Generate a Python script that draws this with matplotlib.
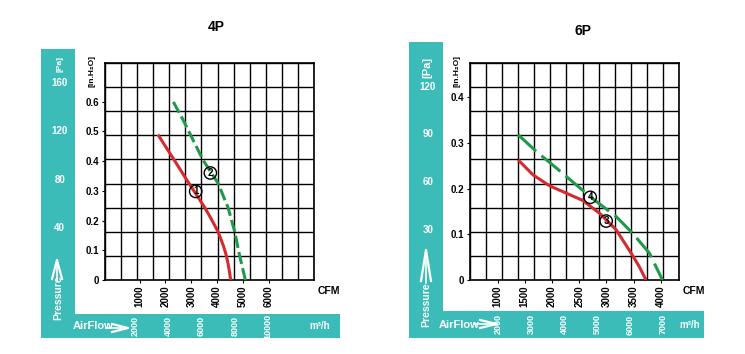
import numpy as np
import matplotlib
matplotlib.use("Agg")
import matplotlib.pyplot as plt

plt.rcParams['font.family'] = ['Liberation Sans', 'DejaVu Sans']
plt.rcParams['font.weight'] = 'bold'

W, H = 745, 354
TEAL = "#3bbcb9"
RED = "#d42a30"
GREEN = "#1f9a4a"

# ---- 4P data (CFM, inH2O)
p4_red_x = [1709, 2292, 2873, 3326, 3519, 3713, 3900, 4035, 4160, 4256, 4350, 4424, 4480, 4527]
p4_red_y = [0.489, 0.410, 0.330, 0.270, 0.244, 0.215, 0.185, 0.163, 0.135, 0.112, 0.085, 0.056, 0.028, 0.0]
p4_green_x = [2306, 2680, 3453, 4035, 4424, 4682, 4876, 5097]
p4_green_y = [0.599, 0.539, 0.404, 0.326, 0.244, 0.163, 0.081, 0.0]
p4_marks = [("1", 3171, 0.298), ("2", 3740, 0.360)]
p4_xticks = [1000, 2000, 3000, 4000, 5000, 6000]
p4_yticks = [0, 0.1, 0.2, 0.3, 0.4, 0.5, 0.6]
p4_pa = [40, 80, 120, 160]
p4_m3h = [2000, 4000, 6000, 8000, 10000]

# ---- 6P data
p6_red_x = [1377, 1652, 1958, 2264, 2568, 2874, 3179, 3454, 3606, 3729]
p6_red_y = [0.263, 0.230, 0.206, 0.190, 0.174, 0.146, 0.110, 0.059, 0.029, 0.0]
p6_green_x = [1377, 1714, 2081, 2447, 2813, 3179, 3484, 3789, 4003, 4033]
p6_green_y = [0.318, 0.281, 0.245, 0.208, 0.172, 0.139, 0.102, 0.059, 0.007, 0.0]
p6_marks = [("3", 2996, 0.129), ("4", 2703, 0.181)]
p6_xticks = [1000, 1500, 2000, 2500, 3000, 3500, 4000]
p6_yticks = [0, 0.1, 0.2, 0.3, 0.4]
p6_pa = [30, 60, 90, 120]
p6_m3h = [2000, 3000, 4000, 5000, 6000, 7000]


def box(x0, y0, x1, y1):
    return [x0 / W, 1 - y1 / H, (x1 - x0) / W, (y1 - y0) / H]


def fmt(v):
    return "0" if v == 0 else f"{v:g}"


def panel(fig, title, tx, ty, plot_px, xlim, ylim, vband_px, hband_px, palim, m3lim,
          rx, ry, gx, gy, marks, xticks, yticks, pa, m3h, dash, pa_lab, pres_y, air_x, unit_x):
    # teal bands: the vertical one stops where the bottom one starts
    hb = fig.add_axes(box(*hband_px))
    hb.set_facecolor(TEAL)
    hb.set_xlim(*m3lim)
    hb.set_xticks([]); hb.set_yticks([])
    for s in hb.spines.values():
        s.set_visible(False)
    vb = fig.add_axes(box(*vband_px))
    vb.set_facecolor(TEAL)
    vb.set_ylim(*palim)
    vb.set_xticks([]); vb.set_yticks([])
    for s in vb.spines.values():
        s.set_visible(False)

    for v in pa:
        vb.text(0.55, v, str(v), transform=vb.get_yaxis_transform(), color="white",
                fontsize=7, ha="center", va="center")
    vb.text(0.55, pa_lab[0], "[Pa]", transform=vb.get_yaxis_transform(), color="white",
            fontsize=pa_lab[1], rotation=90, ha="center", va="center")
    vb.text(0.5, pres_y, "Pressure", transform=vb.transAxes, color="white",
            fontsize=7.5, rotation=90, ha="center", va="center")
    for v in m3h:
        hb.text(v, 0.5, str(v), transform=hb.get_xaxis_transform(), color="white",
                fontsize=6.5, rotation=90, ha="center", va="center")
    hb.text(unit_x, 0.5, "m³/h", transform=hb.transAxes, color="white",
            fontsize=7, ha="right", va="center")
    hb.text(air_x, 0.5, "AirFlow", transform=hb.transAxes, color="white",
            fontsize=8, ha="left", va="center")

    # plot
    ax = fig.add_axes(box(*plot_px))
    ax.set_xlim(*xlim)
    ax.set_ylim(*ylim)
    ax.set_xticks(np.linspace(xlim[0], xlim[1], 14), minor=True)
    ax.set_yticks(np.linspace(ylim[0], ylim[1], 10), minor=True)
    ax.grid(which="minor", color="black", lw=1.0)
    ax.tick_params(which="minor", length=0)
    ax.set_xticks(xticks)
    ax.set_xticklabels([str(v) for v in xticks], rotation=90, fontsize=7)
    ax.set_yticks(yticks)
    ax.set_yticklabels([fmt(v) for v in yticks], fontsize=7)
    ax.tick_params(which="major", length=2, width=0.8, pad=2)
    for s in ax.spines.values():
        s.set_linewidth(1.2)
    ax.set_axisbelow(True)
    ax.plot(rx, ry, color=RED, lw=2.2, solid_capstyle="butt", zorder=3)
    ax.plot(gx, gy, color=GREEN, lw=2.2, dashes=dash, zorder=3)
    for lab, mx, my in marks:
        ax.text(mx, my, lab, fontsize=7, ha="center", va="center", zorder=4,
                bbox=dict(boxstyle="circle,pad=0.12", fc="none", ec="black", lw=1.0))
    ax.text(1.015, -0.05, "CFM", transform=ax.transAxes, fontsize=7.5, ha="left", va="center")
    ax.text(-0.06, 0.965, "[in.H₂O]", transform=ax.transAxes, fontsize=6,
            rotation=90, ha="center", va="center")
    fig.text(tx / W, 1 - ty / H, title, fontsize=10, ha="center", va="center")
    return vb, hb


fig = plt.figure(figsize=(W / 100, H / 100), dpi=100)
fig.patch.set_facecolor("white")

panel(fig, "4P", 216, 27, (105, 63, 314, 280), (-344, 7757), (0, 0.730),
      (41, 49, 75, 314), (41, 314, 340, 338), (-31, 188), (-3653, 14327),
      p4_red_x, p4_red_y, p4_green_x, p4_green_y, p4_marks, p4_xticks, p4_yticks,
      p4_pa, p4_m3h, (4, 1.4), (176, 6), 0.06, 0.107, 0.967)
panel(fig, "6P", 583, 31, (470, 63, 679, 280), (492, 4335), (0, 0.475),
      (409, 42, 443, 311), (409, 311, 704, 338), (-21, 148), (-701, 8254),
      p6_red_x, p6_red_y, p6_green_x, p6_green_y, p6_marks, p6_xticks, p6_yticks,
      p6_pa, p6_m3h, (8, 2.3), (132, 8), 0.025, 0.10, 0.985)

# arrows on the teal bands
deco = fig.add_axes([0, 0, 1, 1], facecolor="none")
deco.set_xlim(0, W)
deco.set_ylim(H, 0)
deco.axis("off")
for cx, y0, y1, hw in [(57, 260, 283, 5), (426, 250, 285, 5)]:
    deco.plot([cx - hw, cx, cx + hw], [y1 - 4, y0, y1 - 4], color="white", lw=1.6)
    deco.plot([cx, cx], [y0, y1 - 2], color="white", lw=1.2)
for x0, x1, cy, hh in [(106, 128, 328, 4), (474, 497, 324, 4)]:
    deco.plot([x0 + 6, x1, x0 + 6], [cy - hh, cy, cy + hh], color="white", lw=1.6)
    deco.plot([x0, x1], [cy, cy], color="white", lw=1.2)

fig.savefig("out.png", dpi=100)
